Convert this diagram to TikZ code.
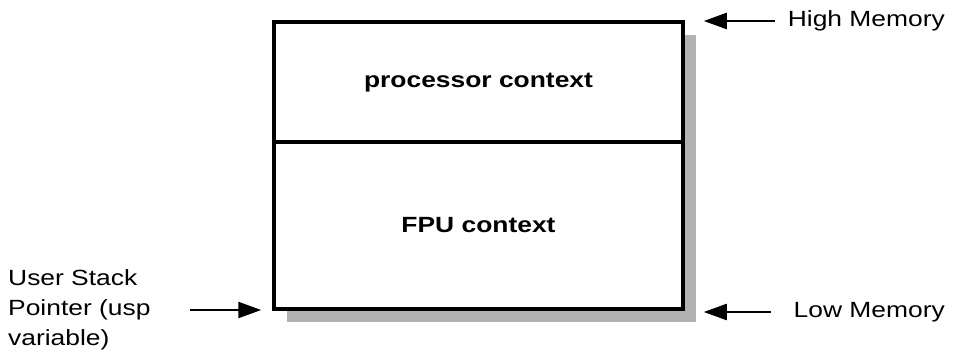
\documentclass[tikz,border=0pt]{standalone}
\usepackage{fontspec}
\setmainfont[FakeStretch=1.2]{Liberation Sans}
\usepackage{tikz}
\usetikzlibrary{arrows.meta,positioning,shadows,calc}
\tikzset{
  stackbox/.style={rectangle, draw=black, line width=3.5pt, fill=white,
                   minimum width=409pt, minimum height=287pt, inner sep=0pt,
                   drop shadow={shadow xshift=13pt, shadow yshift=-13pt,
                                fill=black!30, opacity=1}},
  wall/.style={line width=3.5pt},
  ctxlabel/.style={font=\fontsize{22}{30}\selectfont\bfseries, inner sep=0pt},
  memlabel/.style={font=\fontsize{22}{30}\selectfont, inner sep=0pt, align=left},
  ptr/.style={-{Triangle[length=23pt,width=16pt]}, line width=2.3pt}
}
\begin{document}
\begin{tikzpicture}[x=1pt, y=1pt]
\useasboundingbox (0,0) rectangle (958,-355);
% the stack frame
\node[stackbox] (stack) at (478.5,-165.5) {};
\draw[wall] (stack.west |- 0,-142) -- (stack.east |- 0,-142);
\node[ctxlabel] (proc) at (478.5,-83) {processor context};
\node[ctxlabel] (fpu) at (478.5,-225) {FPU context};
% pointers into memory
\coordinate (tipr) at ([xshift=19pt]stack.east);
\node[memlabel, anchor=east] (high) at (945,-21) {High Memory};
\node[memlabel, anchor=east] (low) at (945,-312) {Low Memory};
\node[memlabel, anchor=west] (usp) at (8,-310) {User Stack\\Pointer (usp\\variable)};
\draw[ptr, shorten <=13pt] (high.west) -- (high.west -| tipr);
\draw[ptr, shorten <=23pt] (low.west) -- (low.west -| tipr);
\draw[ptr] ([xshift=182pt]usp.west) -- ([xshift=-11pt]stack.south west |- usp.west);
\end{tikzpicture}
\end{document}
